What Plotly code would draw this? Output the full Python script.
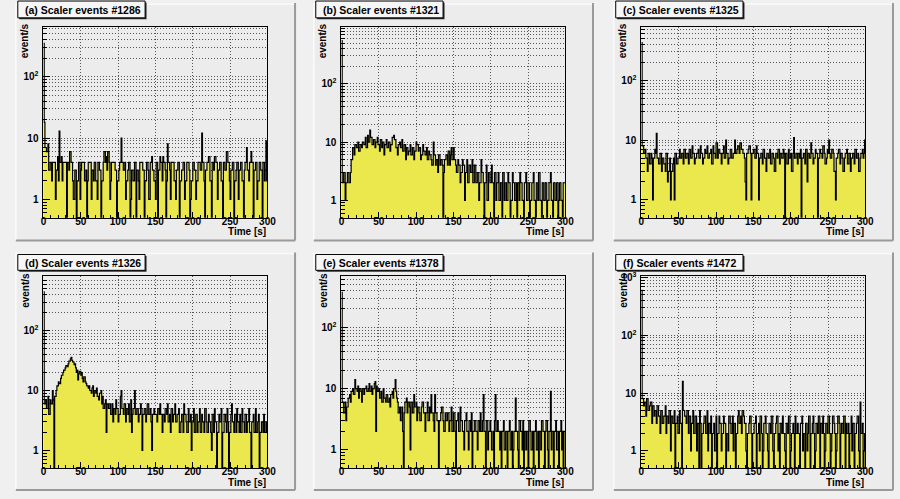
import numpy as np
import plotly.graph_objects as go

W, H = 900, 499

# 1 s time bins from 0 to 300 s
edges = np.arange(0, 301)

run_ids = ["#1286", "#1321", "#1325", "#1326", "#1378", "#1472"]
panel_tags = ["(a)", "(b)", "(c)", "(d)", "(e)", "(f)"]

rate_1286 = [
    350, 18, 7, 7, 6, 6, 8, 3, 3, 4, 4, 2, 4, 4, 4, 4, 1, 3, 3, 5, 2, 13, 4, 4, 5, 2, 4, 4, 4, 4,
    4, 0, 4, 4, 3, 6, 6, 4, 4, 2, 1, 1, 3, 3, 0, 2, 2, 4, 4, 1, 3, 4, 4, 4, 4, 2, 2, 3, 0, 2,
    4, 4, 4, 4, 1, 3, 3, 2, 4, 4, 2, 2, 1, 4, 4, 3, 3, 0, 2, 2, 4, 6, 6, 4, 5, 3, 6, 6, 4, 1,
    2, 4, 4, 4, 4, 4, 3, 3, 0, 2, 2, 3, 4, 4, 10, 4, 4, 3, 3, 4, 1, 2, 2, 3, 4, 4, 0, 1, 3, 3,
    2, 2, 4, 4, 0, 3, 3, 2, 1, 4, 4, 4, 4, 3, 3, 0, 2, 2, 4, 4, 3, 1, 1, 4, 4, 5, 3, 3, 2, 2,
    1, 4, 4, 0, 3, 3, 5, 4, 4, 2, 5, 4, 4, 3, 0, 2, 8, 4, 4, 3, 1, 4, 4, 4, 4, 2, 2, 1, 3, 3,
    4, 4, 0, 2, 2, 3, 3, 4, 4, 1, 2, 2, 4, 4, 4, 3, 0, 1, 2, 2, 4, 4, 3, 3, 1, 2, 2, 4, 4, 4,
    3, 3, 12, 4, 4, 2, 0, 3, 3, 4, 4, 5, 5, 2, 2, 0, 4, 4, 3, 5, 5, 4, 4, 1, 3, 3, 4, 4, 2, 2,
    0, 4, 4, 3, 3, 6, 6, 4, 4, 2, 1, 3, 3, 4, 4, 0, 2, 2, 3, 4, 4, 1, 3, 3, 4, 4, 2, 2, 0, 3,
    4, 4, 7, 3, 3, 2, 4, 4, 6, 4, 4, 0, 3, 3, 4, 4, 1, 2, 2, 4, 4, 3, 3, 0, 4, 4, 2, 3, 9, 2,
]

rate_1321 = [
    550, 2, 2, 3, 3, 1, 2, 2, 3, 3, 2, 2, 3, 5, 5, 8, 8, 6, 9, 9, 8, 8, 10, 7, 7, 9, 9, 8, 10, 10,
    9, 9, 12, 8, 8, 13, 10, 10, 16, 12, 12, 9, 9, 11, 11, 8, 10, 10, 12, 9, 9, 7, 11, 11, 8, 10, 10, 6, 9, 9,
    11, 8, 8, 10, 10, 7, 9, 9, 12, 12, 13, 11, 11, 8, 8, 6, 9, 9, 10, 8, 8, 11, 7, 7, 9, 9, 5, 8, 8, 6,
    7, 7, 9, 6, 6, 8, 8, 5, 7, 7, 10, 9, 9, 7, 8, 8, 5, 6, 6, 9, 7, 7, 6, 6, 8, 5, 5, 7, 6, 6,
    5, 4, 4, 10, 6, 6, 4, 5, 5, 3, 6, 6, 4, 5, 5, 4, 0, 3, 5, 5, 6, 6, 4, 7, 7, 4, 6, 8, 5, 5,
    8, 5, 5, 4, 3, 3, 5, 4, 4, 2, 3, 3, 5, 4, 4, 1, 3, 3, 5, 2, 2, 4, 4, 3, 3, 5, 2, 2, 4, 4,
    2, 2, 3, 3, 1, 2, 2, 5, 3, 3, 2, 0, 2, 2, 4, 1, 1, 3, 3, 2, 2, 4, 2, 2, 0, 3, 3, 1, 2, 2,
    3, 1, 1, 2, 2, 0, 3, 3, 1, 2, 2, 1, 1, 3, 2, 2, 0, 1, 1, 3, 2, 2, 1, 1, 2, 0, 2, 2, 1, 3,
    2, 2, 1, 1, 0, 2, 2, 3, 1, 1, 2, 2, 0, 1, 1, 2, 2, 3, 1, 1, 0, 2, 2, 1, 3, 3, 1, 1, 0, 2,
    2, 1, 1, 2, 2, 0, 1, 1, 2, 2, 3, 1, 1, 0, 2, 2, 1, 1, 2, 2, 0, 1, 2, 2, 1, 1, 0, 2, 2, 2,
]

rate_1325 = [
    430, 8, 8, 6, 6, 7, 5, 5, 3, 6, 6, 4, 4, 6, 5, 1, 5, 5, 7, 6, 13, 5, 5, 4, 4, 6, 6, 3, 5, 5,
    4, 4, 3, 6, 6, 2, 3, 3, 5, 1, 3, 3, 4, 5, 1, 6, 6, 4, 4, 5, 5, 7, 5, 5, 6, 6, 4, 7, 7, 5,
    5, 6, 6, 4, 7, 7, 5, 5, 8, 6, 6, 4, 5, 5, 6, 6, 7, 5, 5, 8, 6, 6, 4, 5, 5, 7, 6, 6, 8, 5,
    5, 6, 6, 7, 4, 4, 8, 6, 6, 5, 9, 9, 5, 7, 7, 6, 6, 4, 6, 6, 8, 5, 5, 10, 6, 6, 4, 5, 5, 7,
    7, 5, 5, 6, 6, 10, 6, 6, 7, 8, 8, 6, 9, 9, 7, 7, 6, 6, 5, 2, 1, 6, 6, 7, 8, 8, 6, 1, 6, 6,
    7, 7, 5, 5, 8, 6, 6, 1, 5, 5, 6, 6, 4, 7, 7, 5, 5, 3, 6, 6, 5, 5, 7, 4, 4, 6, 6, 5, 3, 3,
    6, 6, 5, 7, 7, 4, 6, 6, 5, 5, 7, 6, 0, 6, 6, 4, 4, 7, 5, 5, 6, 3, 3, 6, 11, 5, 5, 6, 6, 4,
    6, 6, 5, 7, 0, 5, 5, 6, 6, 4, 7, 7, 2, 6, 6, 5, 5, 9, 6, 6, 4, 5, 5, 7, 6, 6, 0, 5, 5, 7,
    6, 6, 5, 8, 8, 6, 4, 4, 5, 7, 6, 10, 6, 5, 5, 7, 7, 6, 3, 3, 1, 5, 5, 6, 7, 7, 4, 6, 6, 5,
    3, 3, 5, 6, 6, 7, 4, 4, 6, 6, 3, 5, 5, 6, 6, 4, 7, 7, 5, 5, 6, 3, 3, 5, 6, 6, 7, 5, 6, 10,
]

rate_1326 = [
    445, 6, 6, 7, 5, 5, 8, 4, 4, 7, 6, 6, 10, 7, 0, 8, 8, 10, 12, 12, 14, 13, 13, 16, 18, 18, 20, 22, 22, 24,
    26, 26, 25, 28, 31, 31, 34, 36, 32, 30, 30, 27, 28, 24, 20, 22, 15, 19, 21, 21, 18, 20, 16, 14, 17, 17, 14, 13, 12, 12,
    11, 12, 10, 10, 9, 11, 12, 8, 10, 10, 9, 11, 8, 8, 7, 9, 9, 10, 6, 8, 5, 5, 6, 7, 2, 6, 6, 5, 5, 6,
    4, 4, 6, 3, 5, 5, 4, 7, 5, 5, 3, 4, 4, 8, 10, 5, 5, 4, 6, 6, 3, 5, 5, 4, 6, 3, 3, 7, 2, 4,
    5, 5, 10, 4, 4, 5, 5, 3, 4, 4, 6, 5, 1, 4, 4, 5, 5, 3, 4, 6, 6, 4, 4, 5, 3, 1, 4, 4, 5, 4,
    4, 4, 3, 5, 5, 4, 6, 4, 4, 2, 4, 4, 3, 5, 5, 4, 6, 3, 3, 4, 2, 5, 5, 3, 4, 4, 6, 3, 3, 4,
    4, 5, 2, 2, 3, 4, 4, 2, 6, 4, 4, 3, 2, 2, 5, 3, 3, 4, 1, 3, 3, 5, 2, 2, 4, 4, 2, 3, 3, 5,
    2, 2, 4, 3, 3, 2, 5, 5, 3, 2, 2, 4, 3, 3, 2, 1, 4, 4, 2, 5, 3, 3, 0, 2, 2, 4, 3, 3, 5, 0,
    2, 2, 4, 4, 3, 2, 5, 3, 0, 2, 2, 4, 6, 3, 3, 2, 4, 4, 2, 5, 3, 3, 2, 4, 2, 2, 5, 3, 3, 2,
    4, 4, 2, 3, 3, 5, 2, 2, 0, 3, 3, 4, 2, 2, 5, 2, 2, 3, 4, 0, 2, 2, 3, 3, 2, 4, 2, 2, 3, 2,
]

rate_1378 = [
    370, 6, 6, 4, 4, 6, 3, 5, 5, 7, 7, 8, 6, 9, 9, 10, 8, 8, 14, 10, 10, 9, 11, 7, 10, 10, 9, 6, 10, 10,
    8, 10, 10, 11, 9, 9, 10, 12, 9, 9, 11, 8, 10, 10, 12, 13, 2, 11, 9, 9, 10, 7, 7, 9, 6, 6, 10, 7, 7, 6,
    8, 8, 6, 6, 7, 5, 8, 8, 9, 7, 10, 10, 14, 9, 7, 6, 4, 4, 5, 3, 3, 5, 2, 0, 4, 6, 6, 7, 4, 6,
    6, 5, 1, 6, 6, 4, 4, 8, 5, 5, 6, 3, 5, 5, 4, 3, 3, 5, 6, 6, 4, 4, 2, 4, 4, 6, 3, 3, 5, 4,
    8, 4, 4, 3, 2, 8, 4, 4, 3, 3, 0, 3, 3, 4, 5, 5, 3, 2, 2, 4, 3, 3, 4, 4, 2, 3, 3, 5, 2, 2,
    4, 4, 2, 0, 3, 3, 4, 2, 2, 5, 3, 3, 2, 2, 1, 3, 3, 4, 2, 2, 1, 3, 3, 2, 4, 0, 2, 2, 3, 3,
    2, 2, 1, 3, 3, 2, 4, 2, 2, 3, 8, 2, 2, 0, 3, 3, 1, 2, 2, 3, 2, 1, 1, 2, 0, 3, 8, 2, 2, 3,
    2, 2, 1, 2, 0, 2, 2, 3, 1, 1, 2, 2, 0, 2, 2, 3, 1, 1, 2, 0, 1, 2, 2, 7, 2, 2, 1, 0, 3, 3,
    2, 2, 1, 3, 0, 2, 2, 1, 2, 2, 0, 3, 3, 2, 1, 1, 2, 0, 2, 2, 3, 1, 1, 2, 0, 2, 2, 1, 3, 3,
    2, 2, 0, 2, 3, 3, 1, 0, 2, 2, 9, 1, 2, 2, 0, 2, 2, 3, 1, 1, 2, 0, 2, 2, 3, 1, 2, 0, 2, 2,
]

rate_1472 = [
    600, 8, 8, 6, 7, 7, 4, 8, 8, 5, 5, 6, 7, 7, 3, 6, 6, 4, 5, 5, 3, 6, 6, 4, 4, 2, 5, 5, 3, 3,
    4, 4, 6, 2, 4, 4, 3, 5, 5, 1, 4, 4, 3, 3, 5, 0, 3, 3, 4, 2, 2, 5, 3, 3, 0, 16, 5, 5, 4, 4,
    3, 5, 5, 2, 4, 4, 1, 3, 3, 5, 2, 2, 4, 4, 1, 3, 3, 0, 5, 3, 0, 2, 2, 3, 4, 4, 2, 2, 5, 1,
    3, 3, 2, 4, 0, 2, 2, 3, 1, 1, 4, 0, 2, 2, 4, 3, 3, 1, 2, 2, 4, 3, 3, 0, 2, 2, 1, 4, 4, 3,
    2, 2, 4, 1, 3, 3, 0, 2, 2, 4, 5, 3, 3, 4, 2, 5, 5, 4, 3, 3, 1, 0, 2, 2, 3, 4, 4, 2, 0, 2,
    2, 3, 3, 4, 0, 2, 2, 3, 1, 4, 4, 2, 0, 1, 3, 3, 4, 2, 2, 1, 0, 3, 3, 2, 4, 4, 1, 0, 2, 2,
    3, 4, 4, 1, 2, 0, 3, 3, 2, 4, 2, 2, 1, 0, 3, 3, 2, 4, 4, 0, 1, 2, 2, 3, 2, 0, 4, 2, 2, 3,
    2, 2, 0, 3, 3, 4, 1, 2, 2, 0, 3, 3, 1, 2, 4, 4, 0, 2, 2, 3, 4, 2, 0, 1, 3, 3, 2, 4, 4, 0,
    3, 3, 2, 4, 2, 0, 1, 3, 3, 2, 4, 4, 2, 0, 1, 2, 4, 4, 3, 2, 0, 1, 2, 4, 4, 3, 0, 2, 3, 3,
    2, 4, 4, 0, 3, 2, 2, 3, 0, 2, 2, 4, 1, 3, 3, 0, 2, 2, 3, 4, 4, 1, 0, 7, 2, 2, 3, 0, 1, 2,
]

rates = [rate_1286, rate_1321, rate_1325, rate_1326, rate_1378, rate_1472]

# log-axis limits of each pad
y_bottom = 0.5
y_top = [650, 950, 790, 815, 680, 1050]

x_major = [0, 50, 100, 150, 200, 250, 300]
x_minor = list(range(0, 301, 10))
y_major = [1, 10, 100, 1000]
y_major_text = ["1", "10", "10<sup>2</sup>", "10<sup>3</sup>"]
y_minor = [0.6, 0.7, 0.8, 0.9] + [k * 10.0 ** d for d in (0, 1, 2) for k in range(2, 10)]

FILL = "#ebe84e"
FONT = "Liberation Sans"
GRID = "#555555"
GRID_DASH = "1px,2px"

# pad geometry (pixels)
pad_x0 = [13, 315, 619]
pad_w = 283
row_pad = [(-2, 238), (250, 490)]
row_plot = [(22, 215), (274, 468)]
row_box = [(-4, 13), (252, 268)]


def px(x):
    return x / W


def py(y):
    return 1 - y / H


fig = go.Figure()
shapes = []
annotations = []

for i, (vals, run, tag) in enumerate(zip(rates, run_ids, panel_tags)):
    assert len(vals) == 300, (run, len(vals))
    row, col = divmod(i, 3)
    n = i + 1
    xa = "x" if n == 1 else f"x{n}"
    ya = "y" if n == 1 else f"y{n}"

    p0 = pad_x0[col]
    top, bot = row_pad[row]
    pt, pb = row_plot[row]
    x0, x1 = p0 + 28, p0 + 255

    # pad with bevelled border
    shapes.append(dict(type="rect", xref="paper", yref="paper", x0=px(p0), x1=px(p0 + pad_w),
                       y0=py(bot), y1=py(top), fillcolor="#ececec", line_width=0, layer="below"))
    shapes.append(dict(type="line", xref="paper", yref="paper", x0=px(p0), x1=px(p0),
                       y0=py(bot), y1=py(top), line=dict(color="#fbfbfb", width=1.5), layer="below"))
    shapes.append(dict(type="line", xref="paper", yref="paper", x0=px(p0), x1=px(p0 + pad_w),
                       y0=py(top + 1), y1=py(top + 1), line=dict(color="#fbfbfb", width=1.5), layer="below"))
    shapes.append(dict(type="line", xref="paper", yref="paper", x0=px(p0), x1=px(p0 + pad_w),
                       y0=py(bot), y1=py(bot), line=dict(color="#9a9a9a", width=2), layer="below"))
    shapes.append(dict(type="line", xref="paper", yref="paper", x0=px(p0 + pad_w), x1=px(p0 + pad_w),
                       y0=py(bot), y1=py(top), line=dict(color="#9a9a9a", width=2), layer="below"))

    # title box with shadow
    b0, b1 = row_box[row]
    shapes.append(dict(type="rect", xref="paper", yref="paper", x0=px(p0 + 3.5), x1=px(p0 + 132.5),
                       y0=py(b1 + 1.5), y1=py(b0 + 1.5), fillcolor="#2a2a2a", line_width=0))
    shapes.append(dict(type="rect", xref="paper", yref="paper", x0=px(p0 + 2), x1=px(p0 + 131),
                       y0=py(b1), y1=py(b0), fillcolor="#f6f6f6",
                       line=dict(color="black", width=1)))
    annotations.append(dict(xref="paper", yref="paper", x=px(p0 + 7), y=py((b0 + b1) / 2 + 0.5),
                            xanchor="left", yanchor="middle", showarrow=False,
                            text=f"{tag} Scaler events {run}",
                            font=dict(family=FONT, size=10.5, color="black", weight="bold")))

    # axis titles
    annotations.append(dict(xref="paper", yref="paper", x=px(p0 + 9), y=py(pt + 14),
                            xanchor="center", yanchor="middle", showarrow=False, textangle=-90,
                            text="event/s",
                            font=dict(family=FONT, size=10, color="black", weight="bold")))
    annotations.append(dict(xref="paper", yref="paper", x=px(x1 + 1), y=py(pb + 14),
                            xanchor="right", yanchor="middle", showarrow=False,
                            text="Time [s]",
                            font=dict(family=FONT, size=10, color="black", weight="bold")))

    # histogram: step outline over a yellow fill; empty bins drop below the axis floor
    v = np.asarray(vals, dtype=float)
    floor = y_bottom / 20
    v_plot = np.where(v > 0, v, floor)
    y_steps = np.append(v_plot, v_plot[-1])
    fig.add_trace(go.Scatter(
        x=edges, y=y_steps, mode="lines", xaxis=xa, yaxis=ya,
        line=dict(color="black", width=1.2, shape="hv", simplify=False),
        fill="tozeroy", fillcolor=FILL, showlegend=False, hoverinfo="skip",
    ))

    tick_font = dict(family=FONT, size=10, color="black", weight="bold")
    fig.layout[f"xaxis{'' if n == 1 else n}"] = dict(
        domain=[px(x0), px(x1)], anchor=ya, range=[0, 300],
        tickvals=x_major, ticktext=[str(t) for t in x_major],
        ticks="inside", ticklen=6, tickcolor="black", tickwidth=1,
        minor=dict(tickvals=x_minor, ticks="inside", ticklen=3, tickcolor="black",
                   tickwidth=1, showgrid=False),
        showgrid=True, griddash=GRID_DASH, gridcolor=GRID, gridwidth=1,
        showline=True, linecolor="black", linewidth=1, mirror=True,
        zeroline=False, tickfont=tick_font, ticklabelstandoff=-6,
    )
    fig.layout[f"yaxis{'' if n == 1 else n}"] = dict(
        domain=[py(pb), py(pt)], anchor=xa, type="log",
        range=[np.log10(y_bottom), np.log10(y_top[i])],
        tickvals=y_major, ticktext=y_major_text,
        ticks="inside", ticklen=7, tickcolor="black", tickwidth=1,
        minor=dict(tickvals=y_minor, ticks="inside", ticklen=3.5,
                   tickcolor="black", tickwidth=1, showgrid=True, griddash=GRID_DASH,
                   gridcolor=GRID, gridwidth=1),
        showgrid=True, griddash=GRID_DASH, gridcolor=GRID, gridwidth=1,
        showline=True, linecolor="black", linewidth=1, mirror=True,
        zeroline=False, tickfont=tick_font, ticklabelstandoff=2,
    )

fig.update_layout(
    width=W, height=H, margin=dict(l=0, r=0, t=0, b=0),
    paper_bgcolor="#f0f0f0", plot_bgcolor="white",
    shapes=shapes, annotations=annotations, showlegend=False,
)

fig.write_html("out.html")
